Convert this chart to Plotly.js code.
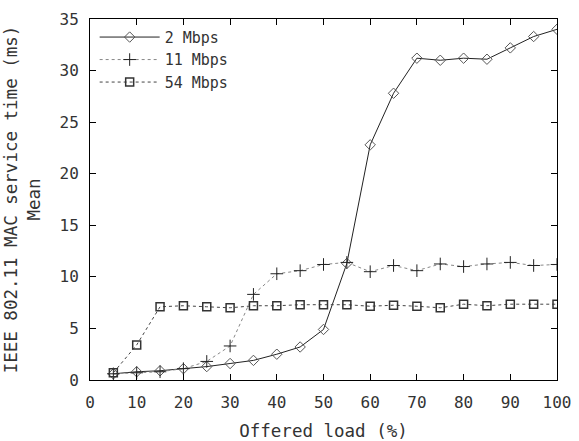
<!DOCTYPE html>
<html>
<head>
<meta charset="utf-8">
<script src="https://cdn.plot.ly/plotly-3.0.1.min.js"></script>
<style>html,body{margin:0;padding:0;background:#fff;}#chart{width:579px;height:441px;}</style>
</head>
<body>
<div id="chart"></div>
<script>
var load = [5,10,15,20,25,30,35,40,45,50,55,60,65,70,75,80,85,90,95,100];
var mbps2 = [0.6,0.8,0.9,1.1,1.3,1.6,1.9,2.5,3.2,4.9,11.3,22.8,27.8,31.2,31.0,31.2,31.1,32.2,33.3,34.0];
var mbps11 = [0.6,0.7,0.8,1.1,1.8,3.3,8.3,10.3,10.6,11.2,11.4,10.5,11.1,10.6,11.25,11.0,11.25,11.4,11.1,11.2];
var mbps54 = [0.7,3.4,7.1,7.2,7.1,7.0,7.2,7.2,7.3,7.3,7.3,7.15,7.25,7.15,7.0,7.35,7.2,7.35,7.35,7.35];
var seriesNames = ['2 Mbps','11 Mbps','54 Mbps'];
var xTicks = [0,10,20,30,40,50,60,70,80,90,100];
var yTicks = [0,5,10,15,20,25,30,35];

var fnt = {family: 'DejaVu Sans Mono, monospace', size: 16, color: '#333'};
var titleFnt = {family: 'DejaVu Sans Mono, monospace', size: 17.5, color: '#333'};
var legFnt = {family: 'DejaVu Sans Mono, monospace', size: 15, color: '#333'};

var traces = [
  {x: load, y: mbps2, name: seriesNames[0], mode: 'lines+markers', type: 'scatter',
   line: {color: '#222', width: 1, dash: 'solid'},
   marker: {symbol: 'diamond-open', size: 8, color: '#555', line: {width: 1}}},
  {x: load, y: mbps11, name: seriesNames[1], mode: 'lines+markers', type: 'scatter',
   line: {color: '#888', width: 1, dash: 'dot'},
   marker: {symbol: 'cross-thin-open', size: 9, color: '#222', line: {width: 1, color: '#222'}}},
  {x: load, y: mbps54, name: seriesNames[2], mode: 'lines+markers', type: 'scatter',
   line: {color: '#444', width: 1, dash: 'dot'},
   marker: {symbol: 'square-open', size: 8, color: '#333', line: {width: 1.5}}}
];

var layout = {
  width: 579, height: 441,
  margin: {l: 90, r: 22, t: 19, b: 61},
  paper_bgcolor: '#fff', plot_bgcolor: '#fff',
  font: fnt,
  showlegend: true,
  legend: {x: 0.01, y: 0.995, xanchor: 'left', yanchor: 'top', bgcolor: 'rgba(0,0,0,0)',
           font: legFnt, itemwidth: 60, tracegroupgap: 0},
  xaxis: {range: [0, 100], tickvals: xTicks, ticktext: xTicks.map(String),
          showgrid: false, zeroline: false, showline: true, linecolor: '#000', linewidth: 1,
          mirror: 'ticks', ticks: 'inside', ticklen: 6, tickcolor: '#000',
          tickfont: fnt, ticklabelstandoff: 8,
          title: {text: 'Offered load (%)', font: titleFnt, standoff: 13}},
  yaxis: {range: [0, 35], tickvals: yTicks, ticktext: yTicks.map(String),
          showgrid: false, zeroline: false, showline: true, linecolor: '#000', linewidth: 1,
          mirror: 'ticks', ticks: 'inside', ticklen: 6, tickcolor: '#000',
          tickfont: fnt, ticklabelstandoff: 7,
          title: {text: 'IEEE 802.11 MAC service time (ms)<br>Mean', font: titleFnt, standoff: 14}}
};

Plotly.newPlot('chart', traces, layout, {displayModeBar: false, staticPlot: true});
</script>
</body>
</html>
